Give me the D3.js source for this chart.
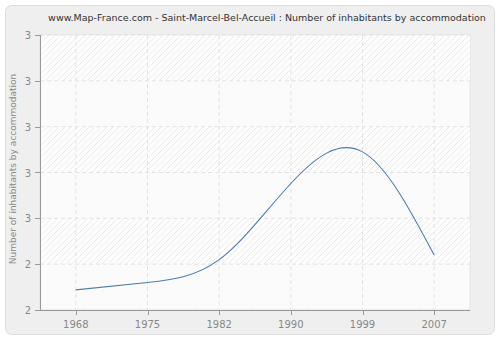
<!DOCTYPE html>
<html>
<head>
<meta charset="utf-8">
<script src="https://cdn.jsdelivr.net/npm/d3@7"></script>
<style>
  html, body { margin: 0; padding: 0; background: #fff; }
  svg { display: block; }
</style>
</head>
<body>
<div id="chart"></div>
<script>
// data
const years = ["1968", "1975", "1982", "1990", "1999", "2007"];
const values = [2.344, 2.36, 2.41, 2.576, 2.645, 2.42];
const yTicks = [2.3, 2.4, 2.5, 2.6, 2.7, 2.8, 2.9];
const yTickLabels = ["2", "2", "3", "3", "3", "3", "3"];

const W = 500, H = 340;
const ML = 40, MR = 30, TOP = 35, BOT = 30;
const FONT = "DejaVu Sans, Verdana, sans-serif";

const svg = d3.select("#chart").append("svg")
  .attr("width", W).attr("height", H);

// hatch pattern for the alternating bands
const defs = svg.append("defs");
const pat = defs.append("pattern")
  .attr("id", "hatch").attr("patternUnits", "userSpaceOnUse")
  .attr("width", 6).attr("height", 6);
pat.append("rect").attr("width", 6).attr("height", 6).attr("fill", "#fdfdfd");
pat.append("path").attr("d", "M0,6 L6,0 M-1,1 L1,-1 M5,7 L7,5")
  .attr("stroke", "#ececec").attr("stroke-width", 1);

// outer frame
svg.append("rect").attr("x", 0).attr("y", 0).attr("width", W).attr("height", H).attr("fill", "#ffffff");
svg.append("rect").attr("x", 5.5).attr("y", 5.5).attr("width", W - 11).attr("height", H - 11)
  .attr("rx", 6).attr("fill", "#efefef").attr("stroke", "#dcdcdc");

const x = d3.scalePoint().domain(years).range([ML, W - MR]).padding(0.5);
const y = d3.scaleLinear().domain([2.3, 2.9]).range([H - BOT, TOP]);

// plot background bands
svg.append("rect").attr("x", ML).attr("y", TOP).attr("width", W - MR - ML).attr("height", H - BOT - TOP)
  .attr("fill", "#fbfbfb").attr("stroke", "#e2e2e2");
yTicks.slice(0, -1).forEach((v, i) => {
  if (i % 2 === 1) {
    svg.append("rect").attr("x", ML).attr("width", W - MR - ML)
      .attr("y", y(yTicks[i + 1])).attr("height", y(v) - y(yTicks[i + 1]))
      .attr("fill", "url(#hatch)");
  }
});

// grid
yTicks.forEach(v => {
  svg.append("line").attr("x1", ML).attr("x2", W - MR)
    .attr("y1", y(v)).attr("y2", y(v))
    .attr("stroke", "#e2e2e2").attr("stroke-dasharray", "4 3");
});
years.forEach(t => {
  svg.append("line").attr("x1", x(t)).attr("x2", x(t))
    .attr("y1", TOP).attr("y2", H - BOT)
    .attr("stroke", "#e2e2e2").attr("stroke-dasharray", "4 3");
});

// axes
const axisCol = "#999";
svg.append("line").attr("x1", ML + 0.5).attr("x2", ML + 0.5).attr("y1", TOP).attr("y2", H - BOT)
  .attr("stroke", axisCol);
svg.append("line").attr("x1", ML).attr("x2", W - MR).attr("y1", H - BOT + 0.5).attr("y2", H - BOT + 0.5)
  .attr("stroke", axisCol);
yTicks.forEach((v, i) => {
  svg.append("line").attr("x1", ML - 5).attr("x2", ML).attr("y1", Math.round(y(v)) + 0.5).attr("y2", Math.round(y(v)) + 0.5)
    .attr("stroke", axisCol);
  svg.append("text").attr("x", ML - 9).attr("y", y(v) + 4)
    .attr("text-anchor", "end")
    .attr("style", `font:10px ${FONT};fill:#888`)
    .text(yTickLabels[i]);
});
years.forEach(t => {
  svg.append("line").attr("x1", Math.round(x(t)) + 0.5).attr("x2", Math.round(x(t)) + 0.5)
    .attr("y1", H - BOT).attr("y2", H - BOT + 5).attr("stroke", axisCol);
  svg.append("text").attr("x", x(t)).attr("y", H - BOT + 18)
    .attr("text-anchor", "middle")
    .attr("style", `font:10px ${FONT};fill:#888`)
    .text(t);
});

// line
const line = d3.line().x((d, i) => x(years[i])).y(d => y(d)).curve(d3.curveNatural);
svg.append("path").attr("d", line(values))
  .attr("fill", "none").attr("stroke", "#4f7cae").attr("stroke-width", 1.1);

// title & y label
svg.append("text").attr("x", 267).attr("y", 21)
  .attr("text-anchor", "middle")
  .attr("style", `font:9.5px ${FONT};fill:#333`)
  .text("www.Map-France.com - Saint-Marcel-Bel-Accueil : Number of inhabitants by accommodation");
svg.append("text")
  .attr("transform", `translate(16, 169) rotate(-90)`)
  .attr("text-anchor", "middle")
  .attr("style", `font:9px ${FONT};fill:#888`)
  .text("Number of inhabitants by accommodation");
</script>
</body>
</html>
